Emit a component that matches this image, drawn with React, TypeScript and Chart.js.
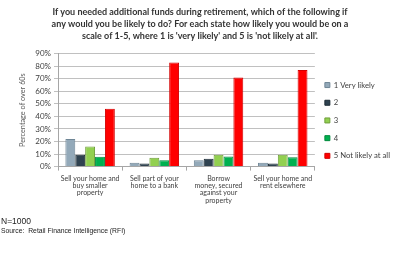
import React, { useEffect, useRef } from "react";
import { Chart, registerables } from "chart.js";

Chart.register(...registerables);

const titleLines = [
  "If you needed additional funds during retirement, which of the following if",
  "any would you be likely to do? For each state how likely you would be on a",
  "scale of 1-5, where 1 is 'very likely' and 5 is 'not likely at all'.",
];
const categories = [
  ["Sell your home and", "buy smaller", "property"],
  ["Sell part of your", "home to a bank"],
  ["Borrow", "money, secured", "against your", "property"],
  ["Sell your home and", "rent elsewhere"],
];
const seriesNames = ["1 Very likely", "2", "3", "4", "5 Not likely at all"];
const veryLikely = [22, 3, 5, 3];
const two = [9.5, 2.5, 6.3, 2.5];
const three = [16, 7, 9.5, 9.5];
const four = [7.8, 5, 8, 7.5];
const notLikely = [46, 83, 71, 77];
const seriesColors = ["#93a9b9", "#2f4250", "#92d050", "#00b050", "#ff0000"];
const seriesBorders = ["#6f8696", "#1e2c36", "#6f9e3a", "#008a3d", "#d40000"];
const yStep = 10;
const yMax = 90;
const yTitle = "Percentage of over 60s";
const footNote = "N=1000";
const sourceNote = "Source:  Retail Finance Intelligence (RFI)";

export default function App() {
  const ref = useRef<HTMLCanvasElement | null>(null);
  useEffect(() => {
    if (!ref.current) return;
    const values = [veryLikely, two, three, four, notLikely];
    const chart = new Chart(ref.current, {
      type: "bar",
      data: {
        labels: categories,
        datasets: values.map((v, i) => ({
          label: seriesNames[i],
          data: v,
          backgroundColor: seriesColors[i],
          borderColor: seriesBorders[i],
          borderWidth: 1,
          categoryPercentage: 0.77,
          barPercentage: 1.0,
        })),
      },
      options: {
        animation: false,
        responsive: false,
        maintainAspectRatio: false,
        layout: { padding: { left: 0, right: 0, top: 0, bottom: 46 } },
        plugins: {
          title: {
            display: true,
            text: titleLines,
            color: "#333333",
            font: { family: "Lato", size: 9, weight: "bold", lineHeight: 1.3 },
            padding: { top: 6.5, bottom: 12 },
          },
          legend: {
            position: "right",
            align: "start",
            fullSize: true,
            title: { display: true, text: "", font: { size: 1 }, padding: { top: 70, bottom: 0 } },
            labels: {
              boxWidth: 5,
              boxHeight: 5,
              padding: 10,
              color: "#404040",
              font: { family: "Lato", size: 7.7 },
            },
          },
          tooltip: { enabled: false },
        },
        scales: {
          x: {
            grid: { drawOnChartArea: false, tickLength: 4, color: "#a6a6a6", offset: true },
            border: { color: "#a6a6a6" },
            ticks: {
              color: "#404040",
              font: { family: "Lato", size: 7, lineHeight: 1.05 },
              maxRotation: 0,
              autoSkip: false,
              padding: 4,
            },
          },
          y: {
            min: 0,
            max: yMax,
            afterFit: (s: any) => {
              s.width = 58;
            },
            grid: { color: "#c0c0c0", tickLength: 4 },
            border: { color: "#a6a6a6" },
            ticks: {
              stepSize: yStep,
              autoSkip: false,
              color: "#404040",
              font: { family: "Lato", size: 8 },
              padding: 3,
              callback: (v: any) => v + "%",
            },
            title: {
              display: true,
              text: yTitle,
              color: "#595959",
              font: { family: "Lato", size: 7.3 },
              padding: { top: 18, bottom: 0 },
            },
          },
        },
      },
    });
    return () => chart.destroy();
  }, []);
  return (
    <div style={{ position: "fixed", left: 0, top: 0, width: 400, height: 254, background: "#fff" }}>
      <canvas ref={ref} width={400} height={254} style={{ position: "absolute", left: 0, top: 0 }} />
      <div
        style={{
          position: "absolute",
          left: 1,
          top: 216,
          fontFamily: "'Liberation Sans', Arial, sans-serif",
          fontSize: 8.5,
          color: "#222",
          lineHeight: "11px",
        }}
      >
        {footNote}
      </div>
      <div
        style={{
          position: "absolute",
          left: 1,
          top: 226,
          fontFamily: "'Liberation Sans', Arial, sans-serif",
          fontSize: 6.8,
          color: "#222",
          lineHeight: "10px",
          whiteSpace: "pre",
        }}
      >
        {sourceNote}
      </div>
    </div>
  );
}
